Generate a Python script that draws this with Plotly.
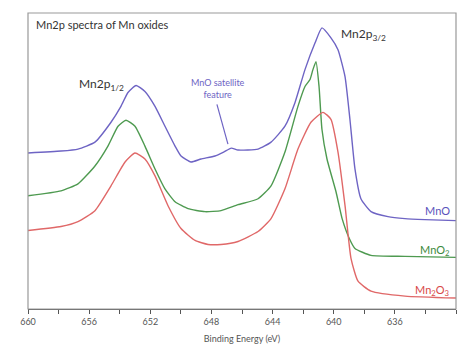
import plotly.graph_objects as go

# Binding energy (eV) and intensity (arbitrary units)
mno_e = [660.0, 657.84, 656.73, 655.62, 654.57, 653.92, 653.46, 652.93, 652.35, 651.69,
         651.04, 650.38, 649.99, 649.34, 648.68, 647.77, 647.2, 646.7, 646.26, 644.95,
         644.10, 643.19, 642.53, 641.88, 641.22, 640.77, 640.18, 639.72, 639.26, 638.94,
         638.61, 638.22, 637.56, 636.45, 635.34, 634.03, 632.0]
mno_i = [157, 159, 161, 168, 188, 204, 218, 225, 219, 204,
         184, 164, 154, 148, 151, 154, 158, 162, 160, 161,
         168, 184, 208, 241, 268, 283, 273, 261, 234, 191,
         141, 111, 98, 93, 91, 90, 89]

mno2_e = [660.0, 657.84, 656.73, 655.62, 654.77, 654.11, 653.59, 653.00, 652.35, 651.69,
          651.04, 650.38, 649.53, 648.42, 647.37, 646.26, 644.95, 644.10, 643.19, 642.34,
          641.88, 641.55, 641.36, 641.16, 640.96, 640.77, 640.44, 639.85, 639.45, 638.98,
          638.61, 637.56, 635.34, 632.0]
mno2_i = [114, 119, 126, 144, 164, 184, 190, 184, 164, 141,
          121, 108, 101, 98, 99, 105, 111, 124, 158, 204,
          224, 231, 241, 249, 224, 181, 151, 118, 91, 71,
          61, 54, 53, 52]

mn2o3_e = [660.0, 657.84, 656.73, 655.62, 654.57, 653.65, 653.00, 652.35, 651.69, 650.84,
           649.99, 649.07, 648.22, 647.37, 646.26, 644.95, 644.10, 643.19, 642.34, 641.49,
           640.70, 640.18, 639.72, 639.26, 638.87, 638.41, 637.56, 635.34, 632.0]
mn2o3_i = [79, 83, 88, 99, 124, 148, 157, 151, 134, 104,
           81, 69, 65, 65, 68, 78, 91, 121, 161, 188,
           198, 191, 158, 104, 51, 28, 18, 13, 11]

tick_vals = [660, 656, 652, 648, 644, 640, 636]

BLUE = "#6e64c4"
GREEN = "#4e9a50"
RED = "#e06868"
FONT = "Lato"

fig = go.Figure()
for e, i, c in [(mno_e, mno_i, BLUE), (mno2_e, mno2_i, GREEN), (mn2o3_e, mn2o3_i, RED)]:
    fig.add_trace(go.Scatter(x=e, y=i, mode="lines",
                             line=dict(color=c, width=1.4, shape="spline", smoothing=0.5),
                             showlegend=False, hoverinfo="skip"))

fig.update_layout(
    width=474, height=354,
    margin=dict(l=28, r=18, t=13, b=43),
    paper_bgcolor="white", plot_bgcolor="white",
    font=dict(family=FONT, color="#444"),
    xaxis=dict(range=[660, 632], tickvals=tick_vals, ticks="outside", ticklen=4,
               tickcolor="#555", showline=True, linecolor="#555", linewidth=1.2,
               showgrid=False, zeroline=False, tickfont=dict(size=9, color="#555"),
               minor=dict(dtick=2, tick0=660, ticks="outside", ticklen=4, tickcolor="#555"),
               title=dict(text="Binding Energy (eV)", font=dict(size=9, color="#555"), standoff=9)),
    yaxis=dict(range=[0, 298], showticklabels=False, showgrid=False, zeroline=False,
               ticks="", showline=False),
    shapes=[
        dict(type="rect", xref="paper", yref="paper", x0=0, x1=1, y0=0, y1=1,
             line=dict(color="#999", width=1.2)),
        dict(type="line", xref="x", yref="y", x0=647.64, y0=206, x1=646.92, y1=166,
             line=dict(color=BLUE, width=1.2)),
    ],
    annotations=[
        dict(text="Mn2p spectra of Mn oxides", xref="paper", yref="paper", x=0.015, y=0.99,
             xanchor="left", yanchor="top", showarrow=False, font=dict(size=11, color="#333")),
        dict(text="Mn2p<sub>1/2</sub>", x=655.22, y=226, showarrow=False,
             font=dict(size=12, color="#333")),
        dict(text="Mn2p<sub>3/2</sub>", x=638.05, y=276, showarrow=False,
             font=dict(size=12, color="#333")),
        dict(text="MnO satellite<br>feature", x=647.57, y=222, showarrow=False,
             font=dict(size=9, color=BLUE)),
        dict(text="MnO", x=632.25, y=99, xanchor="right", showarrow=False,
             font=dict(size=11, color="#5a52bb")),
        dict(text="MnO<sub>2</sub>", x=632.25, y=59, xanchor="right", showarrow=False,
             font=dict(size=11, color="#3c8a3c")),
        dict(text="Mn<sub>2</sub>O<sub>3</sub>", x=632.25, y=19, xanchor="right", showarrow=False,
             font=dict(size=11, color="#d84848")),
    ],
)

fig.write_html("out.html")
